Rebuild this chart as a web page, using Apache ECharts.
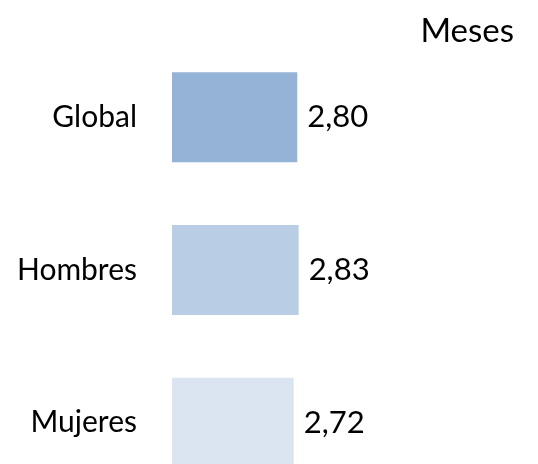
<!DOCTYPE html>
<html>
<head>
<meta charset="utf-8">
<script src="https://cdn.jsdelivr.net/npm/echarts@6/dist/echarts.min.js"></script>
<style>html,body{margin:0;padding:0;background:#fff;}#c{width:538px;height:464px;}</style>
</head>
<body>
<div id="c"></div>
<script>
const categories = ['Global', 'Hombres', 'Mujeres'];
const values = [2.80, 2.83, 2.72];
const barColors = ['#95B3D7', '#B9CDE5', '#DBE5F1'];
const unitLabel = 'Meses';

const FONT = 'Lato';
const chart = echarts.init(document.getElementById('c'), null, {renderer: 'canvas'});
chart.setOption({
  animation: false,
  backgroundColor: '#ffffff',
  title: {
    text: unitLabel,
    right: 19,
    top: 10,
    textStyle: {fontFamily: FONT, fontSize: 33, fontWeight: 'normal', color: '#000'}
  },
  grid: {left: 172, top: 41, width: 358, height: 458, containLabel: false, outerBoundsMode: 'none'},
  xAxis: {
    type: 'value', min: 0, max: 8,
    show: false
  },
  yAxis: {
    type: 'category', data: categories, inverse: true,
    axisLine: {show: false}, axisTick: {show: false}, splitLine: {show: false},
    axisLabel: {margin: 35, fontFamily: FONT, fontSize: 30, color: '#000'}
  },
  series: [{
    type: 'bar',
    barWidth: 90,
    data: values.map((v, i) => ({value: v, itemStyle: {color: barColors[i]}})),
    label: {
      show: true, position: 'right', distance: 10,
      fontFamily: FONT, fontSize: 31, color: '#000',
      formatter: p => p.value.toFixed(2).replace('.', ',')
    }
  }]
});
</script>
</body>
</html>
